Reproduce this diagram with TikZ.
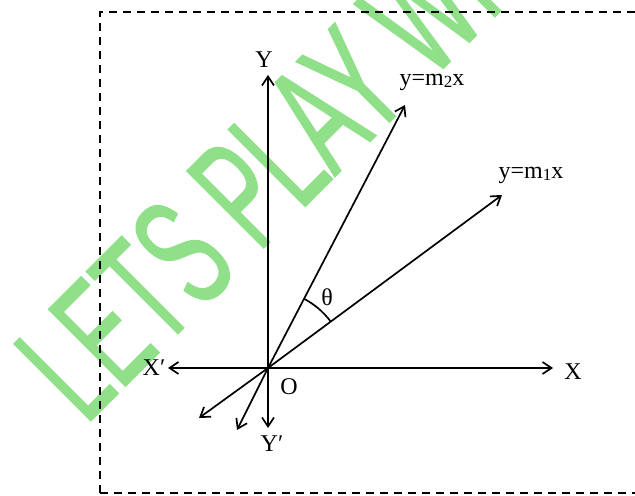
\documentclass[tikz,border=0pt]{standalone}
\usepackage{fontspec}
\setmainfont{Liberation Serif}
\newfontfamily\wmfont[FakeStretch=0.557, FakeBold=0.9]{Liberation Sans}
\usetikzlibrary{arrows.meta}
\definecolor{wmgreen}{RGB}{143,224,137}
\tikzset{
  axisline/.style={line width=0.85pt, -{Straight Barb[length=4.5pt,width=6pt]}},
  lbl/.style={inner sep=0pt, font=\fontsize{12}{12}\selectfont},
  frame/.style={line width=0.75pt, dash pattern=on 4pt off 3pt},
}
\newcommand{\sbs}[1]{\raisebox{-0.12em}{\fontsize{8.5}{8.5}\selectfont #1}}
\begin{document}
\begin{tikzpicture}[x=0.5pt,y=0.5pt]
\useasboundingbox (0,0) rectangle (635,496);
% watermark
\node[anchor=base west, inner sep=0pt, rotate=45, text=wmgreen] (wm) at (85.5,69.8)
  {\wmfont\fontsize{79}{79}\selectfont LETS PLAY WI};
% frame
\draw[frame] (100,3) rectangle (645,484);
% coordinates
\coordinate (O) at (268,128);
\coordinate (Yt) at (268,421);
\coordinate (Ybt) at (268,68);
\coordinate (Xt) at (553,128);
\coordinate (Xbt) at (168,128);
\coordinate (m2t) at (405,391);
\coordinate (m2b) at (237,66);
\coordinate (m1t) at (502,301);
\coordinate (m1b) at (199,78);
% axes
\draw[axisline] (O) -- (Yt);
\draw[axisline] (O) -- (Ybt);
\draw[axisline] (O) -- (Xt);
\draw[axisline] (O) -- (Xbt);
\draw[axisline] (O) -- (m2t);
\draw[axisline] (O) -- (m2b);
\draw[axisline] (O) -- (m1t);
\draw[axisline] (O) -- (m1b);
% angle arc
\draw[line width=0.85pt] (O) ++(36.5:78) arc[start angle=36.5, end angle=62.5, radius=78];
% labels
\node[lbl] (lY) at (264,436) {Y};
\node[lbl] (lYb) at (272,52) {Y′};
\node[lbl] (lX) at (573,124) {X};
\node[lbl] (lXb) at (154,128) {X′};
\node[lbl] (lO) at (289,109) {O};
\node[lbl] (lm2) at (432,414) {y=m\sbs{2}x};
\node[lbl] (lm1) at (531,321) {y=m\sbs{1}x};
\node[lbl] (lth) at (327,199) {θ};
\end{tikzpicture}
\end{document}
